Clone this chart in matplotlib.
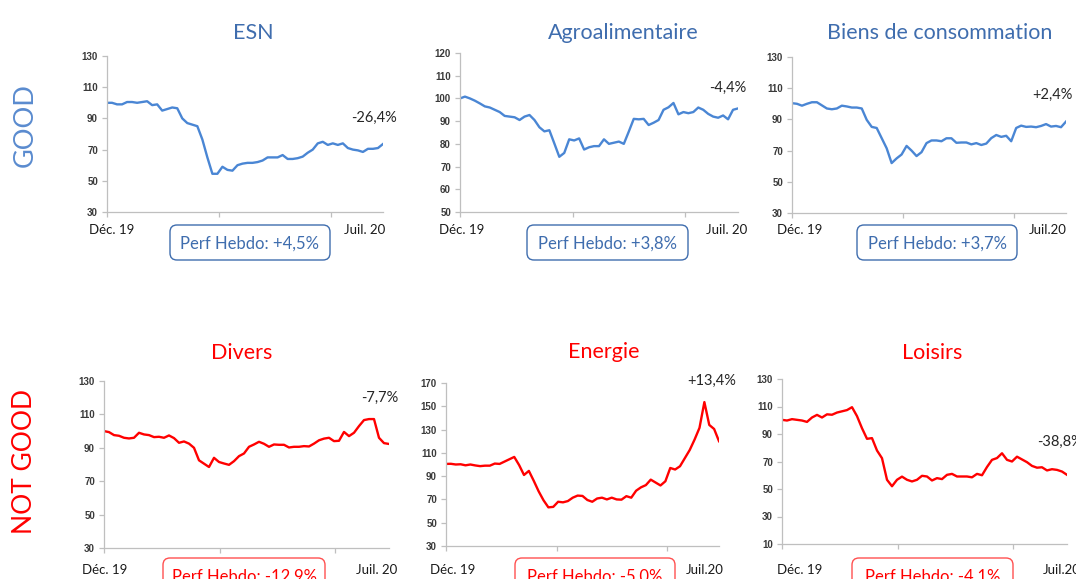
import numpy as np
import matplotlib
matplotlib.use("Agg")
import matplotlib.pyplot as plt
from matplotlib.patches import FancyBboxPatch

# Sector indices (base 100, Dec. 19 -> Jul. 20)
esn = [100, 100, 99, 99, 100.5, 100.5, 100, 100.5, 101, 98.5, 99, 95, 96, 97, 96.5,
       90, 87, 86, 85, 76.5, 65, 54.5, 54.5, 59, 57, 56.5, 60, 61, 61.5, 61.5, 62,
       63, 65, 65, 65, 66.5, 64, 64, 64.5, 65.5, 68, 70, 74, 75, 73, 74, 73, 74, 71,
       70, 69.5, 68.5, 70.5, 70.5, 71, 73.6]
agro = [100, 100.8, 100, 99, 97.8, 96.5, 96, 95, 94, 92.3, 92, 91.7, 90.5, 92, 92.7,
        90.5, 87.3, 85.5, 86, 80.2, 74.3, 76, 82, 81.5, 82.4, 77.5, 78.5, 79, 79, 82,
        80, 80.5, 81, 80, 85.4, 91, 90.8, 91, 88.3, 89.3, 90.5, 95, 96.1, 98, 93, 94,
        93.5, 94, 96, 95, 93.2, 92, 91.5, 92.5, 90.8, 95, 95.6]
biens = [100.4, 100, 98.8, 100, 101, 101, 99, 97, 96.5, 97, 98.8, 98.3, 97.6, 97.6,
         97, 89.7, 85.2, 84.5, 78, 71.5, 62, 65, 67.5, 73, 70, 66.5, 69, 74.8, 76.5,
         76.5, 76, 77.9, 77.9, 75, 75.2, 75.2, 74, 74.8, 73.6, 74.5, 78, 80, 78.8,
         79.5, 76, 84.5, 86, 85.2, 85.4, 85, 85.8, 87, 85.4, 85.8, 85, 88.6]
divers = [100, 99.4, 97.6, 97.2, 96, 95.6, 96, 99, 98, 97.6, 96.4, 96.6, 96, 97.4,
          95.8, 93, 93.8, 92.5, 90, 82.5, 80.5, 78.5, 84, 81.5, 80.6, 79.8, 82, 85,
          86.6, 90.6, 92, 93.6, 92.4, 90.6, 92, 91.8, 91.8, 90.2, 90.6, 90.6, 91,
          90.8, 92.5, 94.5, 95.5, 96, 94, 94.2, 99.5, 97, 99, 103, 106.6, 107.2,
          107.2, 96, 92.8, 92.3]
energie = [100.5, 100.6, 100, 100.2, 99.3, 100, 99.2, 98.6, 99, 99, 100.8, 100.5,
           102.5, 104.5, 106.5, 99.5, 91, 94.5, 86, 77, 69.3, 63.2, 63.6, 68, 67.5,
           68.6, 71.5, 73.3, 73, 69.5, 68, 70.8, 71.5, 70, 71.5, 70, 69.8, 72.8, 71.5,
           77.5, 80.4, 82.3, 87, 84.5, 82, 85.6, 97, 95.7, 98.5, 105.5, 112.5, 121.5,
           131.5, 153.6, 134, 130.5, 120]
loisirs = [100.3, 99.8, 100.8, 100.3, 99.8, 98.8, 102, 103.9, 102, 104.3, 104, 105.6,
           106.5, 107.4, 109.5, 103, 94.2, 86.5, 87, 78, 72.4, 56.7, 52, 56.7, 59,
           56.7, 55.5, 56.7, 59.6, 59.1, 56.2, 57.9, 57.2, 60.3, 61, 59.1, 59.1, 59.1,
           58.5, 61, 60, 66, 71.2, 72.5, 76, 71.2, 70, 73.5, 71.5, 69.5, 66.8, 65.5,
           65.8, 63.5, 64.4, 63.9, 62.7, 60.3]

titles = ["ESN", "Agroalimentaire", "Biens de consommation", "Divers", "Energie", "Loisirs"]
perf_ytd = ["-26,4%", "-4,4%", "+2,4%", "-7,7%", "+13,4%", "-38,8%"]
perf_hebdo = ["+4,5%", "+3,8%", "+3,7%", "-12,9%", "-5,0%", "-4,1%"]
end_labels = ["Juil. 20", "Juil. 20", "Juil.20", "Juil. 20", "Juil.20", "Juil.20"]
y_ranges = [(30, 130, 20), (50, 120, 10), (30, 130, 20), (30, 130, 20), (30, 170, 20), (10, 130, 20)]

W, H = 1076, 579
BLUE_LINE = "#4A86D4"
BLUE_TXT = "#3F6DAE"
BLUE_BIG = "#5A8BCF"
RED = "#FF0000"

fig = plt.figure(figsize=(W / 100, H / 100), dpi=100)


def fx(x):
    return x / W


def fy(y):
    return 1 - y / H


# layout in pixels: axes box (left, top, right, bottom), title x, pct label, box
layout = [
    dict(ax=(107, 56, 383, 212), tx=253, ty=33, px=(374, 118, "center"), date=(112, 365, 230), box=(170, 225, 330, 260)),
    dict(ax=(460, 53, 738, 212), tx=623, ty=33, px=(728, 88, "center"), date=(462, 727, 230), box=(527, 225, 688, 260)),
    dict(ax=(792, 57, 1066, 213), tx=940, ty=33, px=(1052, 95, "center"), date=(800, 1048, 230), box=(857, 225, 1017, 260)),
    dict(ax=(104, 381, 389, 548), tx=242, ty=353, px=(380, 398, "center"), date=(105, 377, 570), box=(163, 558, 325, 594)),
    dict(ax=(446, 383, 719, 546), tx=604, ty=352, px=(712, 381, "center"), date=(453, 705, 570), box=(515, 558, 675, 594)),
    dict(ax=(782, 379, 1067, 544), tx=932, ty=353, px=(1037, 442, "left"), date=(800, 1062, 570), box=(852, 558, 1013, 594)),
]

series = [esn, agro, biens, divers, energie, loisirs]

for i, (vals, lay) in enumerate(zip(series, layout)):
    good = i < 3
    lc = BLUE_LINE if good else RED
    tc = BLUE_TXT if good else RED
    l, t, r, b = lay["ax"]
    ax = fig.add_axes([fx(l), fy(b), (r - l) / W, (b - t) / H])
    n = len(vals)
    ax.plot(np.arange(n), vals, color=lc, lw=1.7, solid_joinstyle="round")
    lo, hi, st = y_ranges[i]
    ax.set_ylim(lo, hi)
    ax.set_xlim(0, n - 1)
    ax.set_yticks(np.arange(lo, hi + 1, st))
    ax.set_xticks([0, (n - 1) * 0.406, (n - 1) * 0.81])
    ax.set_xticklabels([])
    for s in ["top", "right"]:
        ax.spines[s].set_visible(False)
    for s in ["left", "bottom"]:
        ax.spines[s].set_color("#BFBFBF")
        ax.spines[s].set_linewidth(0.9)
    ax.tick_params(axis="both", color="#BFBFBF", length=3.5, width=0.9, direction="out")
    ax.tick_params(axis="y", labelsize=7, labelcolor="#3A3A3A", pad=3)
    for lab in ax.get_yticklabels():
        lab.set_fontweight("bold")
        lab.set_family("Liberation Sans")
    ax.patch.set_alpha(0)

    fig.text(fx(lay["tx"]), fy(lay["ty"]), titles[i], color=tc, fontsize=15.5,
             family="Lato", ha="center", va="center")
    px, py, pha = lay["px"]
    fig.text(fx(px), fy(py), perf_ytd[i], color="#262626", fontsize=10.5,
             family="Lato", ha=pha, va="center")
    d0, d1, dy = lay["date"]
    fig.text(fx(d0), fy(dy), "Déc. 19", color="#1A1A1A", fontsize=9.5,
             family="Lato", ha="center", va="center")
    fig.text(fx(d1), fy(dy), end_labels[i], color="#1A1A1A", fontsize=9.5,
             family="Lato", ha="center", va="center")
    bl, bt, br, bb = lay["box"]
    box = FancyBboxPatch((bl / 100, (H - bb) / 100), (br - bl) / 100, (bb - bt) / 100,
                         boxstyle="round,pad=0,rounding_size=0.07",
                         transform=fig.dpi_scale_trans, facecolor="white",
                         edgecolor=BLUE_TXT if good else "#FF5050", lw=1.0)
    fig.add_artist(box)
    fig.text(fx((bl + br) / 2), fy((bt + bb) / 2 + 1), "Perf Hebdo: " + perf_hebdo[i],
             color=tc, fontsize=12, family="Lato", ha="center", va="center")

fig.text(fx(25), fy(125), "GOOD", color=BLUE_BIG, fontsize=19.5, family="Lato",
         rotation=90, ha="center", va="center")
fig.text(fx(25), fy(462), "NOT GOOD", color=RED, fontsize=19, family="Lato",
         rotation=90, ha="center", va="center")

fig.savefig("out.png", dpi=100)
